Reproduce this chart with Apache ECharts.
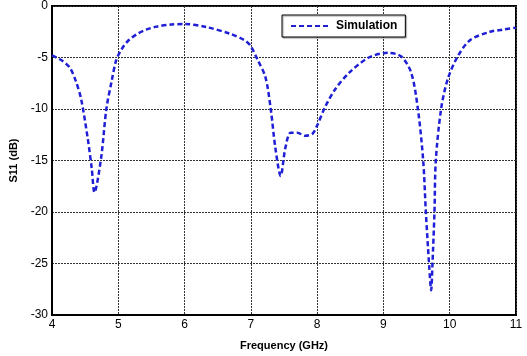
<!DOCTYPE html>
<html>
<head>
<meta charset="utf-8">
<script src="https://cdn.jsdelivr.net/npm/echarts@6/dist/echarts.min.js"></script>
<style>
  html, body { margin: 0; padding: 0; background: #fff; }
  #chart { width: 527px; height: 356px; }
</style>
</head>
<body>
<div id="chart"></div>
<script>
// frequency (GHz) and S11 (dB)
const freq = [4.0, 4.15, 4.27, 4.36, 4.44, 4.54, 4.6, 4.64, 4.74, 4.82, 4.9, 4.97, 5.06, 5.16,
  5.29, 5.42, 5.58, 5.8, 6.0, 6.33, 6.69, 6.9, 6.99, 7.1, 7.22, 7.3, 7.37, 7.45, 7.52, 7.6, 7.7,
  7.82, 7.93, 8.0, 8.12, 8.27, 8.48, 8.78, 9.07, 9.27, 9.42, 9.52, 9.6, 9.64, 9.69, 9.72, 9.74,
  9.77, 9.79, 9.87, 9.97, 10.12, 10.31, 10.61, 10.8, 11.0];
const s11 = [-4.8, -5.3, -6.0, -7.3, -9.05, -12.9, -15.8, -18.1, -14.8, -10, -7.3, -5.24, -4.1, -3.3,
  -2.7, -2.3, -2.0, -1.8, -1.75, -2.05, -2.7, -3.3, -3.8, -5.2, -6.9, -10, -13.8, -16.5, -13.8, -12.3, -12.3,
  -12.6, -12.4, -11.6, -9.8, -8.1, -6.5, -5.0, -4.55, -4.9, -6.5, -10, -15, -20, -25.2, -27.6, -25,
  -20, -15, -10, -7.1, -4.9, -3.3, -2.5, -2.3, -2.1];
const seriesName = 'Simulation';

const chart = echarts.init(document.getElementById('chart'));
const font = 'Liberation Sans, Arial, sans-serif';
const gridLine = { show: true, lineStyle: { color: '#333', type: [2, 1], width: 1 } };

chart.setOption({
  animation: false,
  backgroundColor: '#fff',
  grid: { left: 47, right: 11, top: 5, bottom: 36, containLabel: false,
    show: true, borderColor: '#000', borderWidth: 2 },
  legend: {
    data: [seriesName],
    left: 282, top: 15,
    padding: [5, 8],
    itemWidth: 40, itemHeight: 12, itemGap: 5,
    itemStyle: { opacity: 0 },
    borderColor: '#000', borderWidth: 1,
    backgroundColor: '#fff',
    shadowColor: 'rgba(0,0,0,0.4)', shadowOffsetX: 1, shadowOffsetY: 1, shadowBlur: 1,
    textStyle: { fontFamily: font, fontSize: 12, fontWeight: 'bold', color: '#000' }
  },
  xAxis: {
    type: 'value', min: 4, max: 11, interval: 1,
    name: 'Frequency (GHz)', nameLocation: 'middle', nameGap: 25,
    nameTextStyle: { fontFamily: font, fontSize: 11, fontWeight: 'bold', color: '#000' },
    axisLine: { show: true, onZero: false, lineStyle: { color: '#000', width: 2 } },
    axisTick: { show: false },
    axisLabel: { fontFamily: font, fontSize: 12, color: '#000', margin: 4 },
    splitLine: gridLine
  },
  yAxis: {
    type: 'value', min: -30, max: 0, interval: 5,
    name: 'S11 (dB)', nameLocation: 'middle', nameGap: 33, nameRotate: 90,
    nameTextStyle: { fontFamily: font, fontSize: 11, fontWeight: 'bold', color: '#000' },
    axisLine: { show: true, onZero: false, lineStyle: { color: '#000', width: 2 } },
    axisTick: { show: false },
    axisLabel: { fontFamily: font, fontSize: 12, color: '#000', margin: 4 },
    splitLine: gridLine
  },
  series: [{
    name: seriesName,
    type: 'line',
    data: freq.map((f, i) => [f, s11[i]]),
    smooth: 0.3,
    showSymbol: false,
    symbol: 'none',
    color: '#1f1fd6',
    lineStyle: { color: '#1f1fd6', width: 2.5, type: [5, 3] }
  }]
});
</script>
</body>
</html>
